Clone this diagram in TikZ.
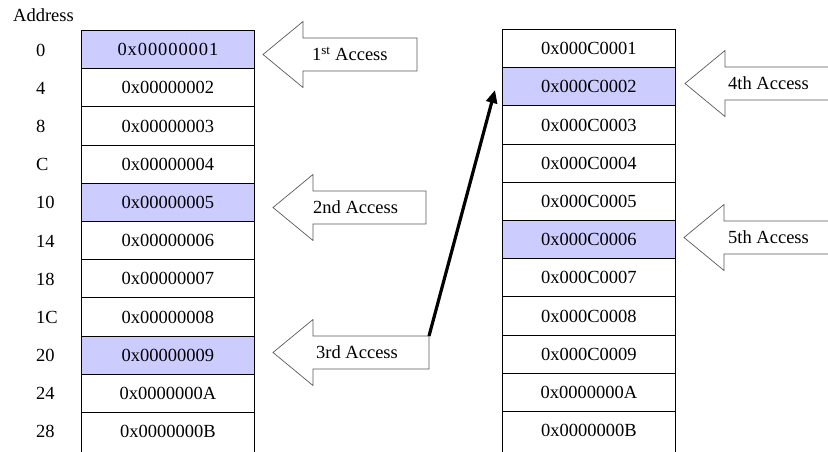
\documentclass[tikz,border=0pt]{standalone}
\usepackage{fontspec}
\setmainfont{Liberation Serif}
\usetikzlibrary{arrows.meta}
\definecolor{hl}{RGB}{204,204,255}
\definecolor{aline}{RGB}{90,90,90}
\newcommand{\accessarrow}[4]{% tip x, centre y, right x, corner name
  \draw[barrow] (#1,#2) -- (#1+40,#2-33) -- (#1+40,#2-16.5) -- (#3,#2-16.5)
    -- (#3,#2+16.5) -- (#1+40,#2+16.5) -- (#1+40,#2+33) -- cycle;
  \coordinate (#4) at (#3,#2-16.5);
}
\begin{document}
\begin{tikzpicture}[x=1pt,y=-1pt,
  every node/.style={font=\fontsize{18.5}{20}\selectfont},
  cell/.style={draw=black,line width=0.9pt,minimum width=173pt,minimum height=38.2pt,inner sep=0pt,anchor=north west},
  hot/.style={fill=hl},
  cold/.style={},
  lastrow/.style={minimum height=46pt,text depth=8pt},
  addr/.style={anchor=west,inner sep=0pt},
  barrow/.style={draw=aline,line width=0.7pt,fill=white},
  alabel/.style={anchor=base west,inner sep=0pt},
  jump/.style={line width=3.2pt,-{Triangle[length=13pt,width=11pt]}}]
\useasboundingbox (0,0) rectangle (828,452);

% header
\node[anchor=base west,inner sep=0pt] (hdr) at (13,22) {Address};

% left memory column
\foreach \i/\a/\v/\s in {0/0/{{\addfontfeature{LetterSpace=5}0x00000001}}/hot,
  1/4/0x00000002/cold, 2/8/0x00000003/cold, 3/C/0x00000004/cold,
  4/10/0x00000005/hot, 5/14/0x00000006/cold, 6/18/0x00000007/cold,
  7/1C/0x00000008/cold, 8/20/0x00000009/hot, 9/24/0x0000000A/cold} {
  \node[cell,\s] (L\i) at (81,30+38.2*\i) {\v};
  \node[addr] (A\i) at (36,50+38.2*\i) {\a};
}
\node[cell,lastrow] (L10) at (81,412) {0x0000000B};
\node[addr] (A10) at (36,431) {28};

% right memory column
\foreach \i/\v/\s in {0/0x000C0001/cold, 1/0x000C0002/hot, 2/0x000C0003/cold,
  3/0x000C0004/cold, 4/0x000C0005/cold, 5/0x000C0006/hot, 6/0x000C0007/cold,
  7/0x000C0008/cold, 8/0x000C0009/cold, 9/0x0000000A/cold} {
  \node[cell,\s] (R\i) at (502,29+38.2*\i) {\v};
}
\node[cell,lastrow] (R10) at (502,411) {0x0000000B};

% access block arrows
\accessarrow{263}{54.5}{417}{c1}
\node[alabel] (t1) at (312,61) {1\textsuperscript{st} Access};
\accessarrow{273}{207.5}{426}{c2}
\node[alabel] (t2) at (313,213.5) {2nd Access};
\accessarrow{273}{352.5}{429}{c3}
\node[alabel] (t3) at (316,358.5) {3rd Access};
\accessarrow{685}{83.5}{850}{c4}
\node[alabel] (t4) at (728,89.5) {4th Access};
\accessarrow{684}{237.5}{850}{c5}
\node[alabel] (t5) at (728,243.5) {5th Access};

% jump from 3rd to 4th access
\coordinate (jtip) at (495,90);
\draw[jump] (c3) -- (jtip);
\end{tikzpicture}
\end{document}
